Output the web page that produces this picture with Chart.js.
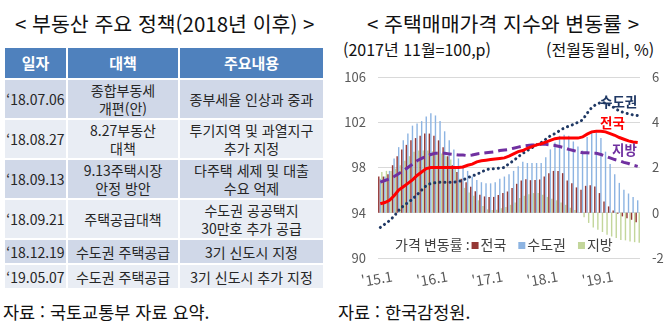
<!DOCTYPE html>
<html lang="ko">
<head>
<meta charset="utf-8">
<script src="https://cdn.jsdelivr.net/npm/chart.js@4.4.1/dist/chart.umd.min.js"></script>
<style>
  html, body { margin: 0; padding: 0; background: #fff; }
  body {
    width: 671px; height: 332px; position: relative; overflow: hidden;
    font-family: "Noto Sans CJK KR", "Noto Sans", sans-serif; color: #1a1a1a;
  }
  .title { position: absolute; top: 11px; font-size: 20.5px; line-height: 24px; white-space: nowrap; color: #111; }
  #titleLeft { left: 15px; }
  #titleRight { left: 367px; }
  .sub { position: absolute; top: 39px; font-size: 16px; line-height: 21px; white-space: nowrap; color: #111; }
  #subLeft { left: 343px; }
  #subRight { left: 546px; }
  .src { position: absolute; top: 300px; font-size: 17.5px; line-height: 24px; white-space: nowrap; color: #111; }
  #srcLeft { left: 3px; }
  #srcRight { left: 338px; }

  #policy {
    position: absolute; left: 3px; top: 46px;
    border-collapse: separate; border-spacing: 2px;
    font-size: 14px; line-height: 18px; color: #262626;
  }
  #policy th, #policy td { padding: 0; text-align: center; vertical-align: middle; white-space: nowrap; }
  #policy th { background: #4F81BD; color: #fff; font-weight: bold; font-size: 15px; height: 30px; }
  #policy tr.b1 td { background: #D0D8E8; }
  #policy tr.b2 td { background: #E9EDF4; }
  #policy tr.tall td { height: 38px; }
  #policy tr.short td { height: 23px; }

  #chartBox { position: absolute; left: 335px; top: 0; width: 336px; height: 332px; }
</style>
</head>
<body>

<div class="title" id="titleLeft">&lt; 부동산 주요 정책(2018년 이후) &gt;</div>
<div class="title" id="titleRight">&lt; 주택매매가격 지수와 변동률 &gt;</div>
<div class="sub" id="subLeft">(2017년 11월=100,p)</div>
<div class="sub" id="subRight">(전월동월비, %)</div>

<table id="policy">
  <colgroup><col style="width:61px"><col style="width:110px"><col style="width:143px"></colgroup>
  <thead><tr><th>일자</th><th>대책</th><th>주요내용</th></tr></thead>
  <tbody>
    <tr class="b1 tall"><td>‘18.07.06</td><td>종합부동세<br>개편(안)</td><td>종부세율 인상과 중과</td></tr>
    <tr class="b2 tall"><td>‘18.08.27</td><td>8.27부동산<br>대책</td><td>투기지역 및 과열지구<br>추가 지정</td></tr>
    <tr class="b1 tall"><td>‘18.09.13</td><td>9.13주택시장<br>안정 방안</td><td>다주택 세제 및 대출<br>수요 억제</td></tr>
    <tr class="b2 tall"><td>‘18.09.21</td><td>주택공급대책</td><td>수도권 공공택지<br>30만호 추가 공급</td></tr>
    <tr class="b1 short"><td>‘18.12.19</td><td>수도권 주택공급</td><td>3기 신도시 지정</td></tr>
    <tr class="b2 short"><td>‘19.05.07</td><td>수도권 주택공급</td><td>3기 신도시 추가 지정</td></tr>
  </tbody>
</table>

<div class="src" id="srcLeft">자료 : 국토교통부 자료 요약.</div>
<div class="src" id="srcRight">자료 : 한국감정원.</div>

<div id="chartBox"><canvas id="chart" width="336" height="332"></canvas></div>

<script>
// Monthly categories, 2015.1 – 2019.9
const months = [
  "'15.1","'15.2","'15.3","'15.4","'15.5","'15.6","'15.7","'15.8","'15.9","'15.10","'15.11","'15.12",
  "'16.1","'16.2","'16.3","'16.4","'16.5","'16.6","'16.7","'16.8","'16.9","'16.10","'16.11","'16.12",
  "'17.1","'17.2","'17.3","'17.4","'17.5","'17.6","'17.7","'17.8","'17.9","'17.10","'17.11","'17.12",
  "'18.1","'18.2","'18.3","'18.4","'18.5","'18.6","'18.7","'18.8","'18.9","'18.10","'18.11","'18.12",
  "'19.1","'19.2","'19.3","'19.4","'19.5","'19.6","'19.7","'19.8","'19.9"
];

// Housing sale price index (2017.11 = 100)
const indexNational = [
  94.8, 94.9, 95.1, 95.5, 96.0, 96.3, 96.6, 96.9, 97.3, 97.6, 97.9, 98.0,
  98.0, 98.0, 98.0, 98.0, 98.0, 98.0, 98.05, 98.2, 98.3, 98.5, 98.6, 98.65,
  98.7, 98.75, 98.8, 98.85, 99.0, 99.2, 99.4, 99.5, 99.7, 99.85, 100.0, 100.1,
  100.25, 100.4, 100.55, 100.6, 100.6, 100.6, 100.6, 100.6, 100.7, 100.95, 101.15, 101.2,
  101.2, 101.15, 101.0, 100.85, 100.65, 100.5, 100.35, 100.25, 100.2
];
const indexCapital = [
  92.7, 93.0, 93.3, 93.7, 94.2, 94.6, 94.9, 95.2, 95.6, 96.0, 96.4, 96.6,
  96.65, 96.7, 96.7, 96.7, 96.7, 96.75, 96.9, 97.1, 97.25, 97.4, 97.6, 97.8,
  97.9, 97.9, 97.95, 98.0, 98.35, 98.6, 98.95, 99.25, 99.5, 99.75, 100.0, 100.2,
  100.5, 100.8, 101.0, 101.25, 101.5, 101.65, 101.8, 102.0, 102.2, 102.8, 103.3, 103.6,
  103.75, 103.7, 103.5, 103.25, 103.0, 102.85, 102.75, 102.65, 102.6
];
const indexLocal = [
  96.7, 96.85, 97.0, 97.2, 97.45, 97.7, 98.0, 98.3, 98.6, 98.8, 99.0, 99.15,
  99.25, 99.25, 99.25, 99.2, 99.15, 99.1, 99.1, 99.05, 99.1, 99.2, 99.25, 99.3,
  99.35, 99.4, 99.5, 99.55, 99.6, 99.7, 99.8, 99.9, 99.95, 100.0, 100.0, 100.05,
  100.05, 100.0, 99.95, 99.85, 99.75, 99.6, 99.5, 99.4, 99.3, 99.3, 99.25, 99.25,
  99.15, 99.0, 98.85, 98.7, 98.6, 98.45, 98.35, 98.2, 98.1
];

// Price change rate (%)
const changeNational = [
  1.6, 1.6, 1.7, 2.1, 2.5, 2.8, 3.0, 3.2, 3.3, 3.4, 3.5, 3.5,
  3.4, 3.2, 2.9, 2.5, 2.1, 1.8, 1.5, 1.35, 1.15, 0.95, 0.8, 0.72,
  0.7, 0.7, 0.78, 0.87, 0.94, 1.09, 1.28, 1.43, 1.48, 1.44, 1.45, 1.47,
  1.6, 1.75, 1.85, 1.85, 1.75, 1.42, 1.3, 1.12, 1.02, 1.19, 1.22, 1.16,
  0.87, 0.5, 0.28, 0.1, -0.04, -0.16, -0.24, -0.31, -0.42
];
const changeCapital = [
  1.5, 1.6, 1.85, 2.4, 2.9, 3.2, 3.5, 3.85, 3.95, 4.05, 4.25, 4.4,
  4.3, 4.05, 3.6, 3.2, 2.8, 2.4, 2.1, 1.85, 1.6, 1.45, 1.35, 1.3,
  1.3, 1.35, 1.5, 1.6, 1.7, 1.85, 2.05, 2.25, 2.2, 2.2, 2.2, 2.2,
  2.45, 2.8, 3.1, 3.4, 3.45, 3.4, 3.15, 2.93, 2.75, 3.35, 3.55, 3.55,
  3.3, 2.7, 2.15, 1.7, 1.32, 1.02, 0.85, 0.7, 0.55
];
const changeLocal = [
  1.8, 1.85, 1.85, 1.95, 2.1, 2.3, 2.5, 2.7, 2.75, 2.75, 2.75, 2.72,
  2.7, 2.62, 2.5, 2.35, 2.0, 1.5, 1.1, 0.9, 0.75, 0.55, 0.3, 0.15,
  0.12, 0.13, 0.2, 0.25, 0.35, 0.45, 0.65, 0.75, 0.82, 0.87, 0.87, 0.8,
  0.7, 0.62, 0.55, 0.45, 0.35, 0.22, 0.12, 0.0, -0.2, -0.45, -0.65, -0.75,
  -0.85, -0.97, -1.05, -1.12, -1.2, -1.22, -1.27, -1.3, -1.33
];

const regionNames = ['전국', '수도권', '지방'];
const lineColors = ['#FF0000', '#1F3864', '#7030A0'];
const barColors = ['#953735', '#8DB4E2', '#C3D69B'];
const FONT = '"Noto Sans CJK KR", "Noto Sans", sans-serif';

// Region names next to the index lines, and the bar legend inside the plot
const annotations = {
  id: 'annotations',
  afterDatasetsDraw(chart) {
    const ctx = chart.ctx;
    ctx.save();
    ctx.textBaseline = 'middle';
    ctx.textAlign = 'left';
    ctx.font = 'bold 13.5px ' + FONT;
    const tags = [
      { text: regionNames[1], color: lineColors[1], x: 265, y: 102 },
      { text: regionNames[0], color: lineColors[0], x: 265, y: 123 },
      { text: regionNames[2], color: lineColors[2], x: 277, y: 150 }
    ];
    tags.forEach(t => { ctx.fillStyle = t.color; ctx.fillText(t.text, t.x, t.y); });

    ctx.font = '14px ' + FONT;
    ctx.fillStyle = '#404040';
    let x = 60;
    const y = 245;
    const head = '가격 변동률 :';
    ctx.fillText(head, x, y);
    x += ctx.measureText(head).width + 2;
    chart.data.datasets.filter(d => d.type === 'bar').forEach(d => {
      ctx.fillStyle = d.backgroundColor;
      ctx.fillRect(x, y - 3, 7, 7);
      x += 9;
      ctx.fillStyle = '#404040';
      ctx.fillText(d.label, x, y);
      x += ctx.measureText(d.label).width + 12;
    });
    ctx.restore();
  }
};

new Chart(document.getElementById('chart'), {
  data: {
    labels: months,
    datasets: [
      { type: 'line', label: regionNames[0], data: indexNational, yAxisID: 'y',
        borderColor: lineColors[0], borderWidth: 3, pointRadius: 0, tension: 0, order: 0 },
      { type: 'line', label: regionNames[1], data: indexCapital, yAxisID: 'y',
        borderColor: lineColors[1], borderWidth: 3, borderDash: [0.1, 5], borderCapStyle: 'round',
        pointRadius: 0, tension: 0, order: 0 },
      { type: 'line', label: regionNames[2], data: indexLocal, yAxisID: 'y',
        borderColor: lineColors[2], borderWidth: 3, borderDash: [9, 5], pointRadius: 0, tension: 0, order: 0 },
      { type: 'bar', label: regionNames[0], data: changeNational, yAxisID: 'y2',
        backgroundColor: barColors[0], categoryPercentage: 1, barPercentage: 0.92, order: 1 },
      { type: 'bar', label: regionNames[1], data: changeCapital, yAxisID: 'y2',
        backgroundColor: barColors[1], categoryPercentage: 1, barPercentage: 0.92, order: 1 },
      { type: 'bar', label: regionNames[2], data: changeLocal, yAxisID: 'y2',
        backgroundColor: barColors[2], categoryPercentage: 1, barPercentage: 0.92, order: 1 }
    ]
  },
  options: {
    responsive: false,
    animation: false,
    devicePixelRatio: 1,
    layout: { padding: { top: 77, bottom: 0, left: 0, right: 0 } },
    plugins: { legend: { display: false }, tooltip: { enabled: false } },
    scales: {
      x: {
        offset: true,
        grid: { display: false, drawTicks: false },
        border: { display: false },
        ticks: {
          autoSkip: false, minRotation: 10, maxRotation: 10, padding: 10, labelOffset: 12,
          color: '#595959', font: { family: FONT, size: 14 },
          callback: (v, i) => (months[i].endsWith('.1') ? months[i] : null)
        },
        afterFit: s => { s.height = 74; }
      },
      y: {
        position: 'left', min: 90, max: 106,
        ticks: { stepSize: 4, padding: 12, color: '#595959', font: { family: FONT, size: 13 } },
        grid: { color: '#D9D9D9', drawTicks: false },
        border: { display: false },
        afterFit: s => { s.width = 43; }
      },
      y2: {
        position: 'right', min: -2, max: 6,
        ticks: { stepSize: 2, padding: 12, color: '#595959', font: { family: FONT, size: 13 } },
        grid: { display: false, drawTicks: false },
        border: { display: false },
        afterFit: s => { s.width = 31; }
      }
    }
  },
  plugins: [annotations]
});
</script>
</body>
</html>
